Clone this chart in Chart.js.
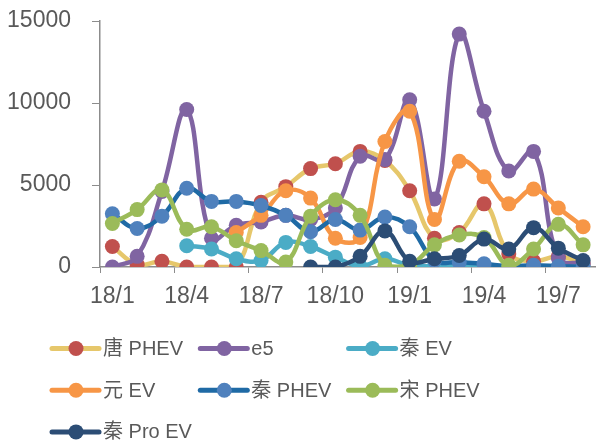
<!DOCTYPE html>
<html>
<head>
<meta charset="utf-8">
<script src="https://cdn.jsdelivr.net/npm/chart.js@4/dist/chart.umd.min.js"></script>
<style>
  body { margin: 0; background: #fff; }
  #wrap { width: 603px; height: 442px; }
</style>
</head>
<body>
<div id="wrap"><canvas id="salesChart" width="603" height="442"></canvas></div>
<script>
const months = ["18/1","18/2","18/3","18/4","18/5","18/6","18/7","18/8","18/9","18/10",
                "18/11","18/12","19/1","19/2","19/3","19/4","19/5","19/6","19/7","19/8"];
const yTicks = [0, 5000, 10000, 15000];

const tangPHEV  = [1250, 150, 350, 0, 0, 0, 3950, 4900, 6000, 6300, 7050, 6500, 4650, 1750, 2100, 3850, 800, 350, 650, 200];
const e5        = [0, 650, 4600, 9600, 1750, 2550, 2750, 3150, 2900, 3600, 6750, 6550, 10200, 4150, 14200, 9500, 5850, 7050, 550, 200];
const qinEV     = [null, null, null, 1300, 1100, 500, 400, 1500, 1250, 600, 50, 500, 100, 50, 100, 100, 0, 0, 0, 0];
const yuanEV    = [null, null, null, null, null, 2100, 3150, 4650, 4200, 1750, 1800, 7650, 9500, 2900, 6450, 5500, 3850, 4750, 3600, 2450];
const qinPHEV   = [3250, 2350, 3100, 4800, 4000, 4000, 3750, 3150, 2150, 2900, 2250, 3050, 2450, 400, 300, 200, 50, 100, 50, 0];
const songPHEV  = [2650, 3500, 4700, 2300, 2450, 1600, 1000, 300, 3100, 4100, 3150, 100, 100, 1350, 1950, 1800, 100, 1100, 2600, 1350];
const qinProEV  = [null, null, null, null, null, null, null, null, 0, 0, 650, 2200, 350, 500, 700, 1700, 1100, 2400, 1150, 400];

const FONT = '"Liberation Sans", Arial, "Noto Sans CJK SC", sans-serif';
const TEXT = "#595959";
const AXIS = "#8c8c8c";

const series = [
  { label: "唐 PHEV",   data: tangPHEV, line: "#e6c76b", dot: "#c0504d" },
  { label: "e5",        data: e5,       line: "#8064a2", dot: "#8064a2" },
  { label: "秦 EV",     data: qinEV,    line: "#4bacc6", dot: "#4bacc6" },
  { label: "元 EV",     data: yuanEV,   line: "#f79646", dot: "#f79646" },
  { label: "秦 PHEV",   data: qinPHEV,  line: "#1f6aa5", dot: "#4f81bd" },
  { label: "宋 PHEV",   data: songPHEV, line: "#9bbb59", dot: "#9bbb59" },
  { label: "秦 Pro EV", data: qinProEV, line: "#2c4d75", dot: "#2c4d75" }
];

// legend laid out in a 3 column grid like the excel one
const gridLegend = {
  id: "gridLegend",
  afterDraw(chart) {
    const ctx = chart.ctx;
    ctx.save();
    chart.data.datasets.forEach((ds, i) => {
      const x0 = 52 + (i % 3) * 148.3;
      const y = 348.5 + Math.floor(i / 3) * 41.7;
      ctx.strokeStyle = ds.borderColor;
      ctx.lineWidth = 5;
      ctx.lineCap = "round";
      ctx.beginPath();
      ctx.moveTo(x0, y);
      ctx.lineTo(x0 + 47, y);
      ctx.stroke();
      ctx.fillStyle = ds.pointBackgroundColor;
      ctx.beginPath();
      ctx.arc(x0 + 24, y, 7.5, 0, Math.PI * 2);
      ctx.fill();
      ctx.fillStyle = TEXT;
      ctx.font = "20px " + FONT;
      ctx.textBaseline = "middle";
      ctx.fillText(ds.label, x0 + 51, y + 1);
    });
    ctx.restore();
  }
};

new Chart(document.getElementById("salesChart"), {
  type: "line",
  data: {
    labels: months,
    datasets: series.map((s, i) => ({
      label: s.label,
      data: s.data,
      borderColor: s.line,
      backgroundColor: s.dot,
      pointBackgroundColor: s.dot,
      pointBorderColor: s.dot,
      pointBorderWidth: 0,
      pointRadius: 7.5,
      borderWidth: 4.5,
      tension: 0.4,
      fill: false,
      order: series.length - i
    }))
  },
  options: {
    responsive: false,
    animation: false,
    devicePixelRatio: 1,
    layout: { padding: { top: 21, right: 3, bottom: 125, left: 0 } },
    plugins: {
      legend: { display: false },
      tooltip: { enabled: false }
    },
    scales: {
      x: {
        type: "category",
        offset: true,
        afterFit(scale) { scale.height = 50; },
        grid: {
          offset: true,
          drawOnChartArea: false,
          drawTicks: true,
          tickLength: 6,
          color: ctx => (ctx.index !== undefined && ctx.index % 3 === 0) ? AXIS : "rgba(0,0,0,0)"
        },
        border: { color: AXIS, width: 1.5 },
        ticks: {
          autoSkip: false,
          maxRotation: 0,
          padding: 10,
          color: TEXT,
          font: { family: FONT, size: 23 },
          callback: function (v, i) { return i % 3 === 0 ? months[i] : ""; }
        }
      },
      y: {
        min: 0,
        max: 15000,
        afterFit(scale) {
          scale.width = 100;
          scale.paddingTop = 0;
          scale.paddingBottom = 0;
        },
        afterBuildTicks(scale) { scale.ticks = yTicks.map(v => ({ value: v })); },
        grid: {
          drawOnChartArea: false,
          drawTicks: true,
          tickLength: 8,
          color: AXIS
        },
        border: { color: AXIS, width: 1.5 },
        ticks: {
          padding: 21,
          color: TEXT,
          font: { family: FONT, size: 23 },
          callback: v => String(v)
        }
      }
    }
  },
  plugins: [gridLegend]
});
</script>
</body>
</html>
